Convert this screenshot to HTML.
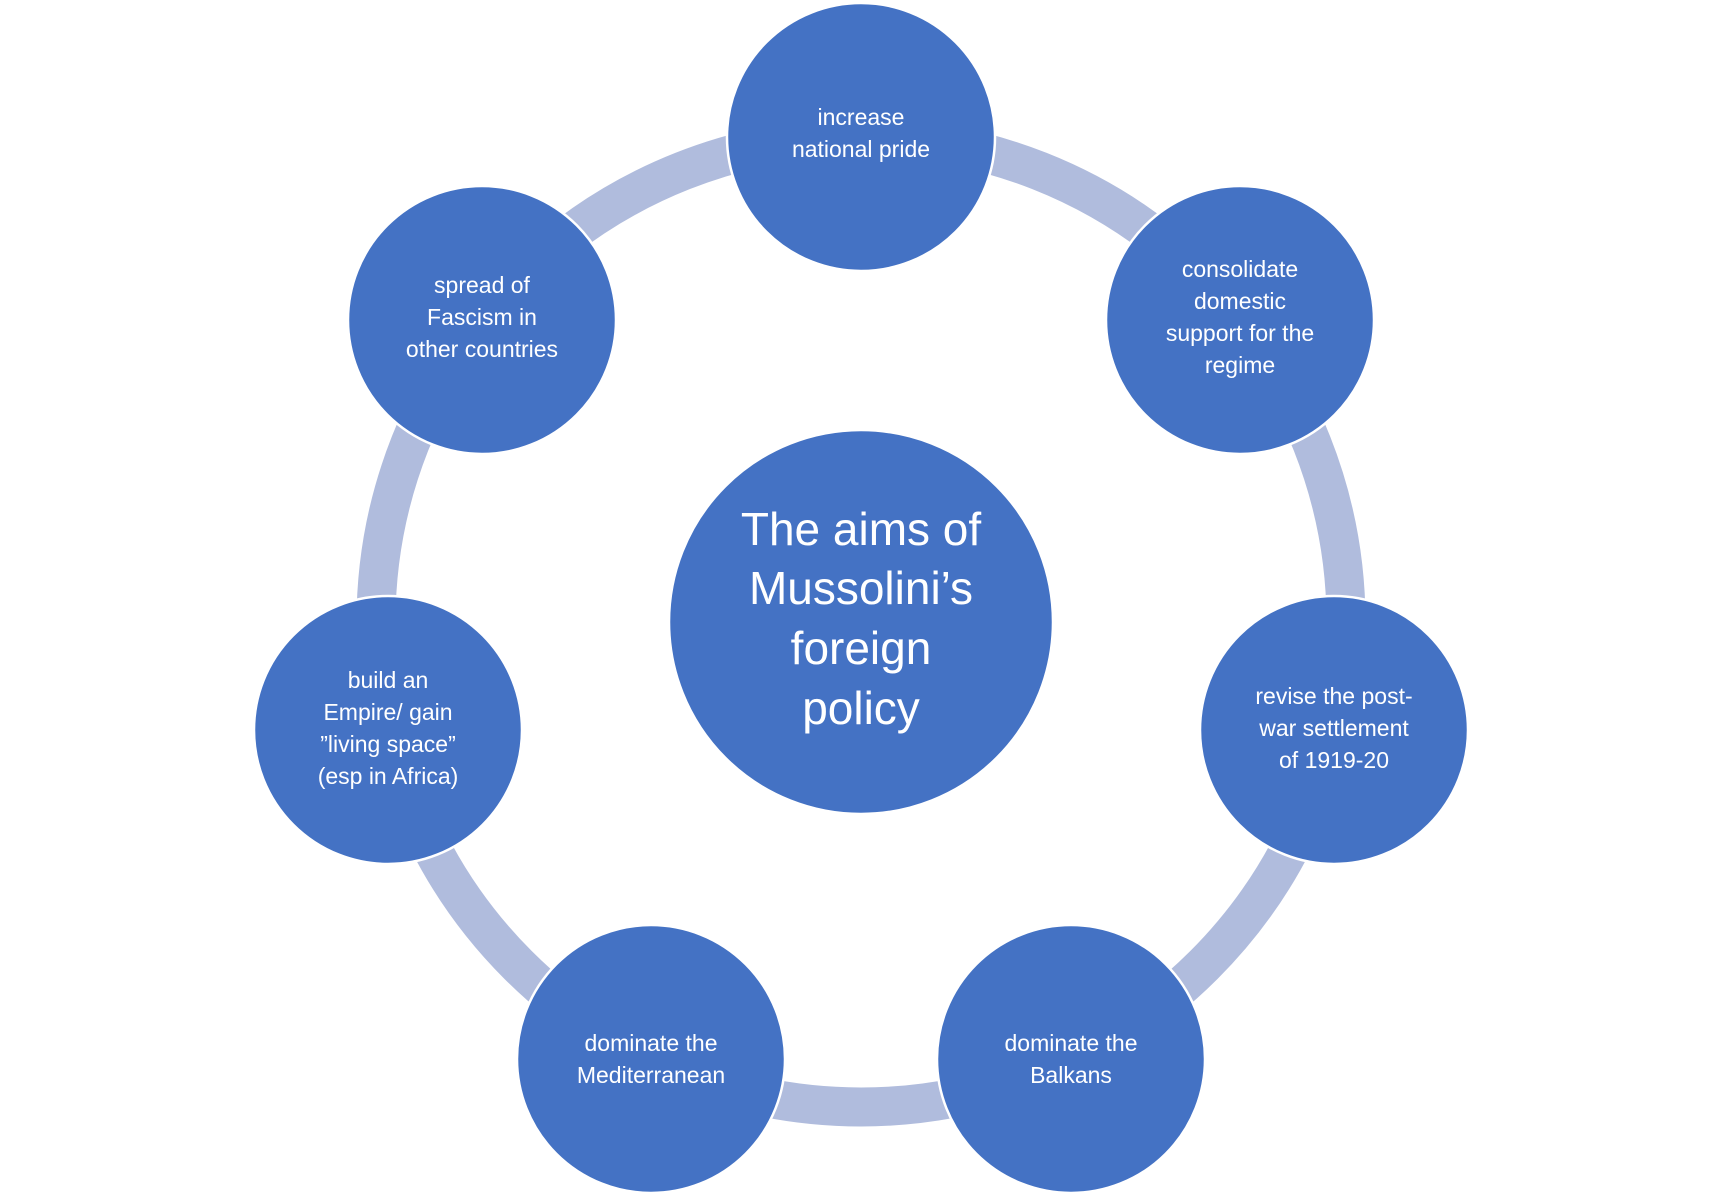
<!DOCTYPE html>
<html><head><meta charset="utf-8"><style>
html,body{margin:0;padding:0;background:#fff;}
svg{display:block}
text{font-family:"Liberation Sans",sans-serif;fill:#fff;text-anchor:middle;dominant-baseline:middle;}
.s{font-size:23px}
.c{font-size:46px}
</style></head><body>
<svg width="1725" height="1192" viewBox="0 0 1725 1192">
<g transform="translate(-4,0)">
<circle cx="865" cy="622" r="485" fill="none" stroke="#B0BCDD" stroke-width="39"/>
<g fill="#4472C4" stroke="#fff" stroke-width="2.5">
<circle cx="865" cy="622" r="192"/>
<circle cx="865" cy="137" r="134"/>
<circle cx="1244" cy="320" r="134"/>
<circle cx="1338" cy="730" r="134"/>
<circle cx="1075" cy="1059" r="134"/>
<circle cx="655" cy="1059" r="134"/>
<circle cx="392" cy="730" r="134"/>
<circle cx="486" cy="320" r="134"/>
</g>
<text class="c" x="865" y="533">The aims of</text>
<text class="c" x="865" y="592">Mussolini’s</text>
<text class="c" x="865" y="652">foreign</text>
<text class="c" x="865" y="712">policy</text>

<text class="s" x="865" y="119">increase</text>
<text class="s" x="865" y="151">national pride</text>

<text class="s" x="1244" y="271">consolidate</text>
<text class="s" x="1244" y="303">domestic</text>
<text class="s" x="1244" y="335">support for the</text>
<text class="s" x="1244" y="367">regime</text>

<text class="s" x="1338" y="698">revise the post-</text>
<text class="s" x="1338" y="730">war settlement</text>
<text class="s" x="1338" y="762">of 1919-20</text>

<text class="s" x="1075" y="1045">dominate the</text>
<text class="s" x="1075" y="1077">Balkans</text>

<text class="s" x="655" y="1045">dominate the</text>
<text class="s" x="655" y="1077">Mediterranean</text>

<text class="s" x="392" y="682">build an</text>
<text class="s" x="392" y="714">Empire/ gain</text>
<text class="s" x="392" y="746">”living space”</text>
<text class="s" x="392" y="778">(esp in Africa)</text>

<text class="s" x="486" y="287">spread of</text>
<text class="s" x="486" y="319">Fascism in</text>
<text class="s" x="486" y="351">other countries</text>
</g>
</svg>
</body></html>
